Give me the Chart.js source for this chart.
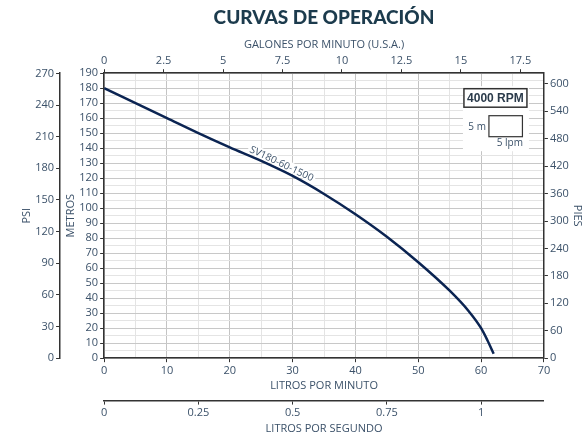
<!DOCTYPE html>
<html>
<head>
<meta charset="utf-8">
<script src="https://cdn.jsdelivr.net/npm/chart.js@4.4.1/dist/chart.umd.min.js"></script>
<style>
html,body{margin:0;padding:0;background:#fff}
#wrap{width:586px;height:435px}
</style>
</head>
<body>
<div id="wrap"><canvas id="curva"></canvas></div>
<script>
// curva: caudal (litros por minuto) y altura (metros)
const lpm = [0, 5, 10, 15, 20, 25, 30, 35, 40, 45, 50, 55, 58, 60, 61, 62];
const metros = [180, 170, 160, 150, 140.5, 131.5, 121.5, 109.5, 96, 81, 64, 45, 31.5, 20, 12, 3];

// marcas de los ejes
const lpmTicks = [0, 5, 10, 15, 20, 25, 30, 35, 40, 45, 50, 55, 60, 65, 70];
const metrosTicks = [0, 5, 10, 15, 20, 25, 30, 35, 40, 45, 50, 55, 60, 65, 70, 75, 80, 85, 90, 95,
  100, 105, 110, 115, 120, 125, 130, 135, 140, 145, 150, 155, 160, 165, 170, 175, 180, 185, 190];
const gpmTicks = [0, 2.5, 5, 7.5, 10, 12.5, 15, 17.5];
const lpsTicks = [0, 0.25, 0.5, 0.75, 1];
const psiTicks = [0, 30, 60, 90, 120, 150, 180, 210, 240, 270];
const piesTicks = [0, 60, 120, 180, 240, 300, 360, 420, 480, 540, 600];

const LPM_POR_GPM = 3.78541;
const PSI_POR_M = 1.42197;
const PIES_POR_M = 3.28084;
const LPM_MAX = 70, M_MAX = 190;

const tinta = '#3b5169';
const linea = '#333';
const fuente = {family: "'Open Sans', sans-serif", size: 11};

const fijarTicks = lista => s => { s.ticks = lista.map(v => ({value: v})); };
const cada10 = c => c.tick && c.tick.value % 10 === 0;

function ejeSecundario(pos, peso, max, lista, titulo, pad) {
  return {
    type: 'linear', position: pos, weight: peso, min: 0, max: max,
    afterBuildTicks: fijarTicks(lista),
    ticks: {color: tinta, font: fuente, padding: 2, autoSkip: false, maxRotation: 0, callback: v => String(v)},
    grid: {drawOnChartArea: false, tickLength: 4, color: linea},
    border: {color: linea, width: 1.5},
    title: {display: true, text: titulo, color: tinta, font: fuente, padding: pad}
  };
}

const extras = {
  id: 'extras',
  beforeDatasetsDraw(chart) {
    const ctx = chart.ctx, ca = chart.chartArea;
    ctx.save();
    ctx.fillStyle = '#fff';
    ctx.fillRect(ca.right - 81, ca.top + 13, 66, 65);
    ctx.strokeStyle = linea;
    ctx.lineWidth = 1.5;
    ctx.strokeRect(ca.right - 80, ca.top + 15.5, 63, 18.5);
    ctx.lineWidth = 1.2;
    ctx.strokeRect(ca.right - 55, ca.top + 42.5, 33.5, 21);
    ctx.fillStyle = '#2b3b4b';
    ctx.font = "bold 12px 'Liberation Sans', Arial, sans-serif";
    ctx.textAlign = 'center';
    ctx.textBaseline = 'middle';
    ctx.fillText('4000 RPM', ca.right - 48.5, ca.top + 25);
    ctx.fillStyle = tinta;
    ctx.font = "10px 'Open Sans', sans-serif";
    ctx.textAlign = 'right';
    ctx.fillText('5 m', ca.right - 58, ca.top + 54);
    ctx.fillText('5 lpm', ca.right - 21, ca.top + 70);
    ctx.restore();
  },
  afterDatasetsDraw(chart) {
    // nombre del modelo sobre la curva
    const ctx = chart.ctx;
    const pts = chart.getDatasetMeta(0).data;
    const a = pts[5], b = pts[6];
    const ang = Math.atan2(b.y - a.y, b.x - a.x);
    const cx = (a.x + b.x) / 2 + 2 + 6 * Math.sin(ang);
    const cy = (a.y + b.y) / 2 + 1 - 6 * Math.cos(ang);
    ctx.save();
    ctx.translate(cx, cy);
    ctx.rotate(ang);
    ctx.font = "10px 'Open Sans', sans-serif";
    const w = ctx.measureText('SV180-60-1500').width;
    ctx.fillStyle = '#fff';
    ctx.fillRect(-w / 2 - 2, -6, w + 4, 10);
    ctx.fillStyle = tinta;
    ctx.textAlign = 'center';
    ctx.textBaseline = 'middle';
    ctx.fillText('SV180-60-1500', 0, 0);
    ctx.restore();
  }
};

new Chart(document.getElementById('curva'), {
  type: 'line',
  data: {
    datasets: [{
      data: lpm.map((x, i) => ({x: x, y: metros[i]})),
      borderColor: '#0b2452',
      borderWidth: 2.5,
      pointRadius: 0,
      cubicInterpolationMode: 'monotone',
      fill: false
    }]
  },
  options: {
    responsive: true,
    maintainAspectRatio: false,
    animation: false,
    layout: {padding: {left: 6, right: 2, top: 1, bottom: 0}},
    plugins: {
      legend: {display: false},
      tooltip: {enabled: false},
      title: {
        display: true, text: 'CURVAS DE OPERACIÓN', color: '#1c3b4d', fullSize: false,
        font: {family: 'Lato, sans-serif', size: 19, weight: '900'},
        padding: {top: 5, bottom: 9}
      }
    },
    scales: {
      x: {
        type: 'linear', position: 'bottom', weight: 0, min: 0, max: LPM_MAX,
        afterBuildTicks: fijarTicks(lpmTicks),
        ticks: {color: tinta, font: fuente, padding: 2, autoSkip: false, maxRotation: 0,
          callback: v => v % 10 === 0 ? String(v) : ''},
        grid: {color: c => cada10(c) ? '#c4c4c4' : '#e4e4e4', tickLength: 4,
          tickColor: c => cada10(c) ? linea : 'rgba(0,0,0,0)'},
        border: {color: linea, width: 1.5},
        title: {display: true, text: 'LITROS POR MINUTO', color: tinta, font: fuente, padding: {top: 0, bottom: 8}}
      },
      x2: ejeSecundario('top', 0, LPM_MAX / LPM_POR_GPM, gpmTicks, 'GALONES POR MINUTO (U.S.A.)', {top: 0, bottom: 1}),
      x3: ejeSecundario('bottom', 1, LPM_MAX / 60, lpsTicks, 'LITROS POR SEGUNDO', {top: 0, bottom: 0}),
      y: {
        type: 'linear', position: 'left', weight: 0, min: 0, max: M_MAX,
        afterBuildTicks: fijarTicks(metrosTicks),
        ticks: {color: tinta, font: fuente, padding: 2, autoSkip: false,
          callback: v => v % 10 === 0 ? String(v) : ''},
        grid: {color: c => cada10(c) ? '#c8c8c8' : '#e4e4e4', tickLength: 4,
          tickColor: c => cada10(c) ? linea : 'rgba(0,0,0,0)'},
        border: {color: linea, width: 1.5},
        title: {display: true, text: 'METROS', color: tinta, font: fuente, padding: {top: 4, bottom: 0}}
      },
      y2: ejeSecundario('left', 1, M_MAX * PSI_POR_M, psiTicks, 'PSI', {top: 14, bottom: 0}),
      y3: ejeSecundario('right', 0, M_MAX * PIES_POR_M, piesTicks, 'PIES', {top: 0, bottom: 0})
    }
  },
  plugins: [extras]
});
</script>
</body>
</html>
